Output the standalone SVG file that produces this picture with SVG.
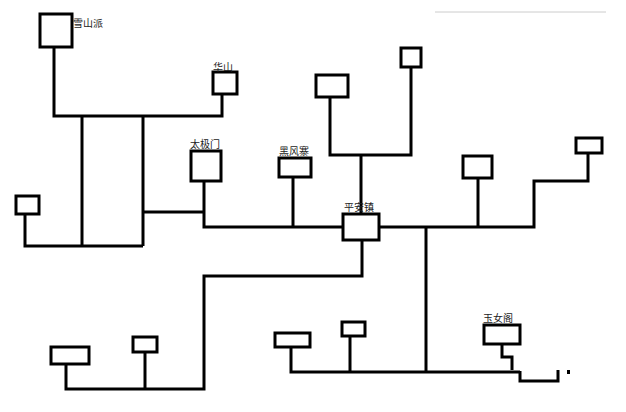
<svg xmlns="http://www.w3.org/2000/svg" width="626" height="412" viewBox="0 0 626 412">
<style>
.box{fill:#fff;stroke:#000;stroke-width:3}
.ln{fill:none;stroke:#000;stroke-width:3}
.lbl{font-family:"Noto Sans CJK SC","Liberation Sans",sans-serif;font-size:10px;fill:#222}
</style>
<rect width="626" height="412" fill="#fff"/>
<path d="M435 12 H606" stroke="#ccc" stroke-width="1" fill="none"/>
<g id="connectors">
<path class="ln" d="M54 47 V116 H222 V94"/>
<path class="ln" d="M82 116 V246"/>
<path class="ln" d="M143 116 V246"/>
<path class="ln" d="M25 214 V246 H143"/>
<path class="ln" d="M143 212 H204"/>
<path class="ln" d="M204 181 V227 H343"/>
<path class="ln" d="M293 177 V227"/>
<path class="ln" d="M379 227 H534 V181 H588 V153"/>
<path class="ln" d="M478 178 V227"/>
<path class="ln" d="M330 97 V155 H411 V67"/>
<path class="ln" d="M361 155 V214"/>
<path class="ln" d="M362 240 V276 H204 V389 H66 V364"/>
<path class="ln" d="M145 352 V389"/>
<path class="ln" d="M426 227 V372"/>
<path class="ln" d="M291 347 V372 H520"/>
<path class="ln" d="M350 336 V372"/>
<path class="ln" d="M502 344 V357 H512 V370"/>
<path class="ln" d="M520 371 V381 H558 V370"/>
<rect x="567" y="370" width="3" height="4" fill="#000"/>
</g>
<g id="xueshan"><rect class="box" x="40" y="14" width="32" height="33"/><text class="lbl" x="73" y="27">雪山派</text></g>
<g id="huashan"><rect class="box" x="213" y="72" width="24" height="22"/><text class="lbl" x="213" y="71">华山</text></g>
<g id="taiji"><rect class="box" x="191" y="151" width="30" height="30"/><text class="lbl" x="190" y="148">太极门</text></g>
<g id="heifeng"><rect class="box" x="279" y="158" width="32" height="19"/><text class="lbl" x="279" y="155">黑风寨</text></g>
<g id="left"><rect class="box" x="16" y="196" width="23" height="18"/></g>
<g id="upper-a"><rect class="box" x="316" y="75" width="32" height="22"/></g>
<g id="upper-b"><rect class="box" x="401" y="48" width="20" height="19"/></g>
<g id="pingan"><rect class="box" x="343" y="214" width="36" height="26"/><text class="lbl" x="344" y="211">平安镇</text></g>
<g id="right-c"><rect class="box" x="463" y="156" width="29" height="22"/></g>
<g id="right-d"><rect class="box" x="576" y="138" width="26" height="15"/></g>
<g id="bottom-e"><rect class="box" x="51" y="347" width="38" height="17"/></g>
<g id="bottom-f"><rect class="box" x="133" y="337" width="24" height="15"/></g>
<g id="bottom-g"><rect class="box" x="275" y="333" width="35" height="14"/></g>
<g id="bottom-h"><rect class="box" x="342" y="322" width="23" height="14"/></g>
<g id="yunv"><rect class="box" x="484" y="325" width="36" height="19"/><text class="lbl" x="483" y="322">玉女阁</text></g>
</svg>
